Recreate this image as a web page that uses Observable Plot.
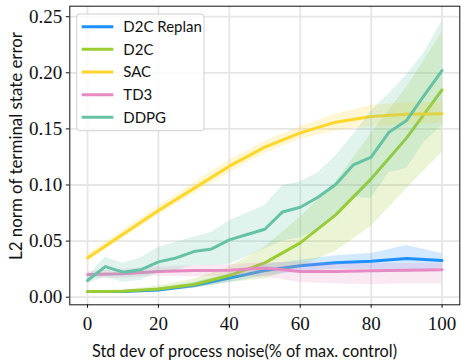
<!DOCTYPE html>
<html>
<head>
<meta charset="utf-8">
<script src="https://cdn.jsdelivr.net/npm/d3@7"></script>
<script src="https://cdn.jsdelivr.net/npm/@observablehq/plot@0.6"></script>
<style>
  html, body { margin: 0; padding: 0; background: white; }
</style>
</head>
<body>
<div id="chart"></div>
<script>
// x positions
const xs10 = [0, 10, 20, 30, 40, 50, 60, 70, 80, 90, 100];
const xs5 = [0, 5, 10, 15, 20, 25, 30, 35, 40, 45, 50, 55, 60, 65, 70, 75, 80, 85, 90, 95, 100];

// D2C Replan
const replanMean = [0.005, 0.005, 0.0065, 0.0104, 0.017, 0.0238, 0.028, 0.0306, 0.032, 0.0345, 0.0327];
const replanHi   = [0.006, 0.006, 0.008, 0.013, 0.021, 0.029, 0.033, 0.037, 0.039, 0.046, 0.039];
const replanLo   = [0.004, 0.004, 0.005, 0.008, 0.013, 0.019, 0.023, 0.025, 0.025, 0.022, 0.026];
// D2C
const d2cMean = [0.005, 0.0053, 0.0074, 0.0113, 0.0193, 0.0306, 0.0484, 0.0734, 0.1055, 0.142, 0.1848];
const d2cHi   = [0.006, 0.0065, 0.010, 0.016, 0.027, 0.0446, 0.071, 0.1025, 0.1456, 0.187, 0.236];
const d2cLo   = [0.004, 0.0043, 0.0055, 0.008, 0.013, 0.0163, 0.027, 0.041, 0.063, 0.0966, 0.129];
// SAC
const sacMean = [0.035, 0.056, 0.0772, 0.097, 0.1168, 0.1337, 0.1465, 0.156, 0.161, 0.163, 0.1635];
const sacHi   = [0.038, 0.060, 0.081, 0.102, 0.122, 0.139, 0.152, 0.163, 0.171, 0.173, 0.174];
const sacLo   = [0.032, 0.052, 0.073, 0.092, 0.111, 0.128, 0.141, 0.148, 0.152, 0.154, 0.155];
// TD3
const td3Mean = [0.0202, 0.021, 0.023, 0.0238, 0.024, 0.026, 0.023, 0.023, 0.0235, 0.024, 0.0244];
const td3Hi   = [0.023, 0.025, 0.027, 0.028, 0.029, 0.031, 0.031, 0.030, 0.030, 0.030, 0.030];
const td3Lo   = [0.017, 0.017, 0.019, 0.018, 0.019, 0.018, 0.013, 0.012, 0.011, 0.012, 0.012];
// DDPG
const ddpgMean = [0.0149, 0.0273, 0.0223, 0.0244, 0.0315, 0.035, 0.0407, 0.043, 0.0511, 0.0559, 0.0606, 0.076, 0.0802, 0.0891, 0.1004, 0.118, 0.1248, 0.147, 0.1575, 0.18, 0.202];
const ddpgHi   = [0.018, 0.0357, 0.0303, 0.035, 0.0446, 0.049, 0.0535, 0.058, 0.068, 0.075, 0.0817, 0.0995, 0.103, 0.111, 0.126, 0.145, 0.166, 0.181, 0.198, 0.218, 0.246];
const ddpgLo   = [0.012, 0.0178, 0.0134, 0.0149, 0.0223, 0.024, 0.0283, 0.028, 0.0297, 0.036, 0.043, 0.05, 0.053, 0.06, 0.073, 0.089, 0.088, 0.111, 0.115, 0.138, 0.153];

const seriesNames = ["D2C Replan", "D2C", "SAC", "TD3", "DDPG"];
const seriesColors = ["#1E90FF", "#9ACD32", "#FFD62A", "#E78AC3", "#66C2A5"];
const xTicks = [0, 20, 40, 60, 80, 100];
const yTicks = [0, 0.05, 0.10, 0.15, 0.20, 0.25];
const xLabel = "Std dev of process noise(% of max. control)";
const yLabel = "L2 norm of terminal state error";

function rows(xs, m, lo, hi) {
  return xs.map((x, i) => ({x, mean: m[i], lo: lo[i], hi: hi[i]}));
}
const seriesData = [
  rows(xs10, replanMean, replanLo, replanHi),
  rows(xs10, d2cMean, d2cLo, d2cHi),
  rows(xs10, sacMean, sacLo, sacHi),
  rows(xs10, td3Mean, td3Lo, td3Hi),
  rows(xs5, ddpgMean, ddpgLo, ddpgHi)
];

const serif = "'Liberation Serif', 'DejaVu Serif', serif";
const sans = "Lato, 'DejaVu Sans', sans-serif";

const marks = [
  Plot.gridX(xTicks, {stroke: "#e6e6e6", strokeOpacity: 1, strokeWidth: 1.8}),
  Plot.gridY(yTicks, {stroke: "#e6e6e6", strokeOpacity: 1, strokeWidth: 1.8})
];
seriesData.forEach((d, i) => {
  marks.push(Plot.areaY(d, {x: "x", y1: "lo", y2: "hi", fill: seriesColors[i], fillOpacity: 0.2}));
  marks.push(Plot.lineY(d, {x: "x", y: "mean", stroke: seriesColors[i], strokeWidth: 3}));
});
marks.push(Plot.frame({stroke: "#111", strokeWidth: 1}));
marks.push(Plot.axisX(xTicks, {tickSize: 3.5, tickPadding: 8, label: null, fontSize: 19, fontFamily: serif, stroke: "#111"}));
marks.push(Plot.axisY(yTicks, {tickSize: 3.5, tickPadding: 4, label: null, fontSize: 19, fontFamily: serif, tickFormat: d3.format(".2f"), stroke: "#111"}));

const chart = Plot.plot({
  width: 466,
  height: 361,
  marginLeft: 69.3,
  marginRight: 6.7,
  marginTop: 5.7,
  marginBottom: 56.7,
  x: {domain: [-5, 105]},
  y: {domain: [-0.00677, 0.25935]},
  style: {fontFamily: serif, fontSize: "19px", background: "white", color: "#111"},
  marks
});

const svg = d3.select(chart);
// force serif tick labels with inline style
svg.selectAll("text").style("font-family", serif);

// axis titles
svg.append("text")
  .attr("x", 244.5).attr("y", 356.5)
  .attr("text-anchor", "middle")
  .style("font-family", sans)
  .attr("font-size", 17)
  .attr("fill", "#111")
  .attr("textLength", 305)
  .attr("lengthAdjust", "spacingAndGlyphs")
  .text(xLabel);
svg.append("text")
  .attr("transform", "translate(21.5,146) rotate(-90)")
  .attr("text-anchor", "middle")
  .style("font-family", sans)
  .attr("font-size", 17)
  .attr("fill", "#111")
  .attr("textLength", 228)
  .attr("lengthAdjust", "spacingAndGlyphs")
  .text(yLabel);

// legend
const lg = svg.append("g");
lg.append("rect")
  .attr("x", 76.7).attr("y", 14).attr("width", 127.3).attr("height", 116.7)
  .attr("rx", 3).attr("fill", "white").attr("fill-opacity", 0.8)
  .attr("stroke", "#d0d0d0").attr("stroke-width", 1);
seriesNames.forEach((name, i) => {
  const yy = 26.7 + i * 22.65;
  lg.append("line")
    .attr("x1", 81.7).attr("x2", 113.3).attr("y1", yy).attr("y2", yy)
    .attr("stroke", seriesColors[i]).attr("stroke-width", 3);
  lg.append("text")
    .attr("x", 123.3).attr("y", yy + 5.3)
    .attr("text-anchor", "start")
    .style("font-family", sans)
    .attr("font-size", 15)
    .attr("fill", "#111")
    .text(name);
});

document.getElementById("chart").appendChild(chart);
</script>
</body>
</html>
